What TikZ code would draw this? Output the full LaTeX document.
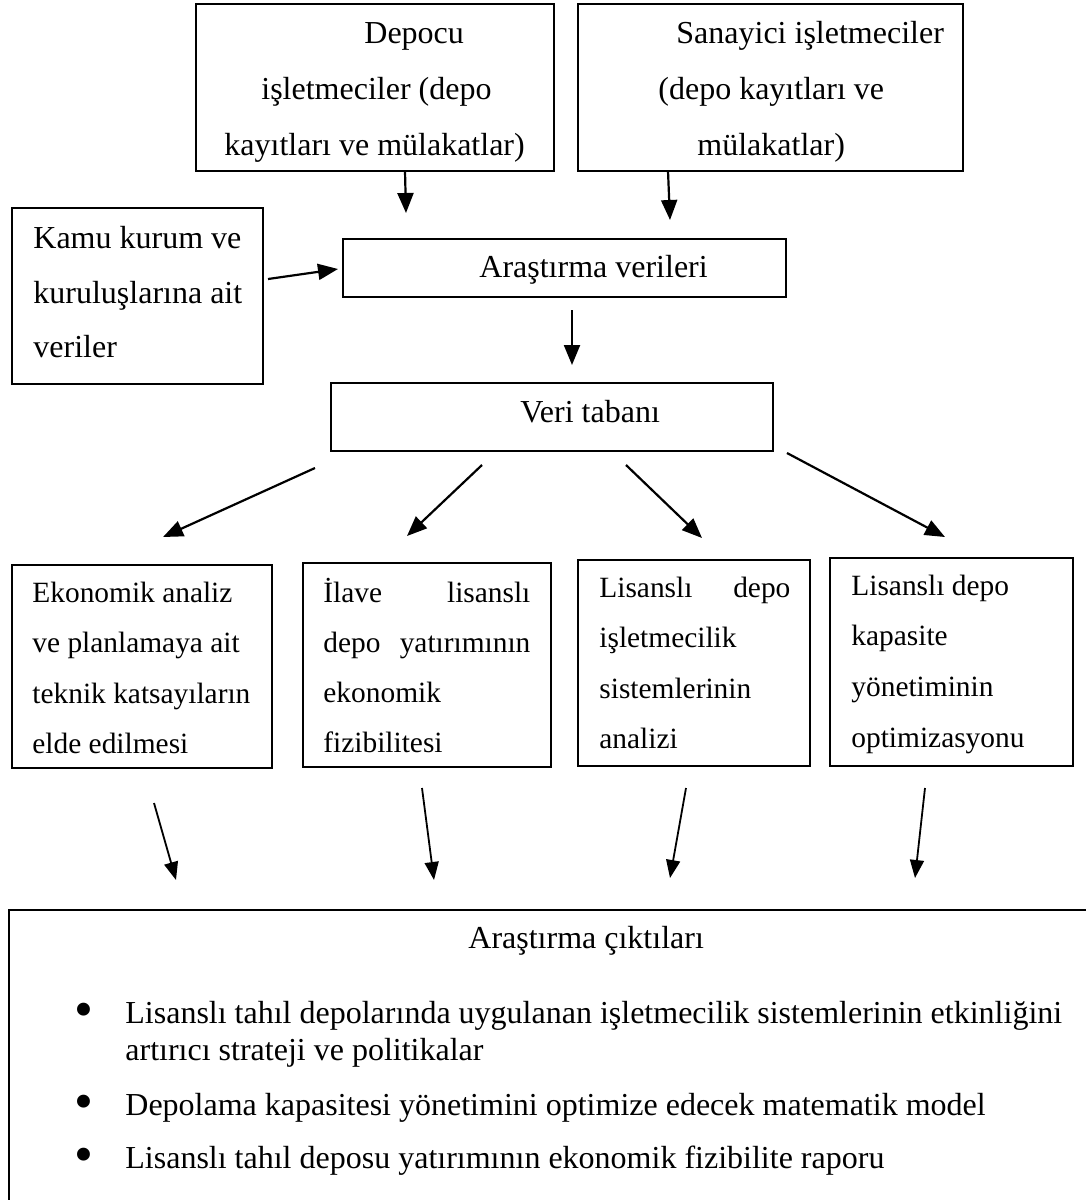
\documentclass[tikz,border=0pt]{standalone}
\usepackage{fontspec}
\setmainfont{Liberation Serif}
\usetikzlibrary{arrows.meta,fit}
\newcommand{\txtL}{\fontsize{16}{19}\selectfont}
\newcommand{\txtM}{\fontsize{14.7}{17}\selectfont}
\newcommand{\txtB}{\fontsize{27}{27}\selectfont}
\tikzset{
  box/.style={draw, line width=0.9pt, inner sep=0pt},
  ln/.style={anchor=base west, inner sep=0pt, font=\txtL},
  lnm/.style={anchor=base west, inner sep=0pt, font=\txtM},
  bul/.style={inner sep=0pt, font=\txtB},
  arr/.style={line width=1.1pt, -{Triangle[length=10pt,width=8pt]}},
  arrb/.style={line width=0.9pt, -{Triangle[length=9pt,width=7pt]}},
}
\begin{document}
\begin{tikzpicture}[x=0.5pt,y=-0.5pt]
\useasboundingbox (0,0) rectangle (1086,1200);
\clip (0,0) rectangle (1086,1200);
\fill[white] (0,0) rectangle (1086,1200);

% top boxes
\node[box, fit={(196,4) (554,171)}] (dep) {};
\node[ln] (dep1) at (364,43) {Depocu};
\node[ln] (dep2) at (261,99) {işletmeciler (depo};
\node[ln] (dep3) at (224,155) {kayıtları ve mülakatlar)};

\node[box, fit={(578,4) (963,171)}] (san) {};
\node[ln] (san1) at (676,43) {Sanayici işletmeciler};
\node[ln] (san2) at (658,99) {(depo kayıtları ve};
\node[ln] (san3) at (697,155) {mülakatlar)};

\node[box, fit={(12,208) (263,384)}] (kamu) {};
\node[ln] (kamu1) at (33,248) {Kamu kurum ve};
\node[ln] (kamu2) at (33,303) {kuruluşlarına ait};
\node[ln] (kamu3) at (33,357) {veriler};

\node[box, fit={(343,239) (786,297)}] (av) {};
\node[ln] (av1) at (479,277) {Araştırma verileri};

\node[box, fit={(331,383) (773,451)}] (vt) {};
\node[ln] (vt1) at (520,422) {Veri tabanı};

% middle boxes
\node[box, fit={(12,565) (272,768)}] (b1) {};
\node[lnm] (b11) at (32,602) {Ekonomik analiz};
\node[lnm] (b12) at (32,652) {ve planlamaya ait};
\node[lnm] (b13) at (32,703) {teknik katsayıların};
\node[lnm] (b14) at (32,753) {elde edilmesi};

\node[box, fit={(303,563) (551,767)}] (b2) {};
\node[lnm] (b21) at (323,602) {\makebox[103.5pt][s]{İlave lisanslı}};
\node[lnm] (b22) at (323,652) {\makebox[103.5pt][s]{depo yatırımının}};
\node[lnm] (b23) at (323,702) {ekonomik};
\node[lnm] (b24) at (323,752) {fizibilitesi};

\node[box, fit={(578,560) (810,766)}] (b3) {};
\node[lnm] (b31) at (599,597) {\makebox[95.5pt][s]{Lisanslı depo}};
\node[lnm] (b32) at (599,647) {işletmecilik};
\node[lnm] (b33) at (599,698) {sistemlerinin};
\node[lnm] (b34) at (599,748) {analizi};

\node[box, fit={(830,558) (1073,766)}] (b4) {};
\node[lnm] (b41) at (851,595) {Lisanslı depo};
\node[lnm] (b42) at (851,645) {kapasite};
\node[lnm] (b43) at (851,696) {yönetiminin};
\node[lnm] (b44) at (851,747) {optimizasyonu};

% output box
\node[box, fit={(9,910) (1100,1220)}] (out) {};
\node[ln] (out0) at (468,948) {Araştırma çıktıları};
\node[bul] (bul1) at (84,1015) {\textbullet};
\node[ln] (out1) at (125,1023) {Lisanslı tahıl depolarında uygulanan işletmecilik sistemlerinin etkinliğini};
\node[ln] (out1b) at (125,1060) {artırıcı strateji ve politikalar};
\node[bul] (bul2) at (84,1107) {\textbullet};
\node[ln] (out2) at (125,1115) {Depolama kapasitesi yönetimini optimize edecek matematik model};
\node[bul] (bul3) at (84,1160) {\textbullet};
\node[ln] (out3) at (125,1168) {Lisanslı tahıl deposu yatırımının ekonomik fizibilite raporu};

% arrow end coordinates
\coordinate (a1s) at (405,171); \coordinate (a1e) at (406,213);
\coordinate (a2s) at (668,171); \coordinate (a2e) at (670,220);
\coordinate (a3s) at (268,279); \coordinate (a3e) at (338,269);
\coordinate (a4s) at (572,310); \coordinate (a4e) at (572,365);
\coordinate (v1s) at (315,468); \coordinate (v1e) at (163,537);
\coordinate (v2s) at (482,465); \coordinate (v2e) at (407,536);
\coordinate (v3s) at (626,465); \coordinate (v3e) at (702,538);
\coordinate (v4s) at (787,453); \coordinate (v4e) at (945,537);
\coordinate (o1s) at (154,803); \coordinate (o1e) at (176,880);
\coordinate (o2s) at (422,788); \coordinate (o2e) at (434,880);
\coordinate (o3s) at (686,788); \coordinate (o3e) at (670,878);
\coordinate (o4s) at (925,788); \coordinate (o4e) at (915,878);

\draw[arr] (a1s) -- (a1e);
\draw[arr] (a2s) -- (a2e);
\draw[arr] (a3s) -- (a3e);
\draw[arr] (a4s) -- (a4e);
\draw[arr] (v1s) -- (v1e);
\draw[arr] (v2s) -- (v2e);
\draw[arr] (v3s) -- (v3e);
\draw[arr] (v4s) -- (v4e);
\draw[arrb] (o1s) -- (o1e);
\draw[arrb] (o2s) -- (o2e);
\draw[arrb] (o3s) -- (o3e);
\draw[arrb] (o4s) -- (o4e);
\end{tikzpicture}
\end{document}
